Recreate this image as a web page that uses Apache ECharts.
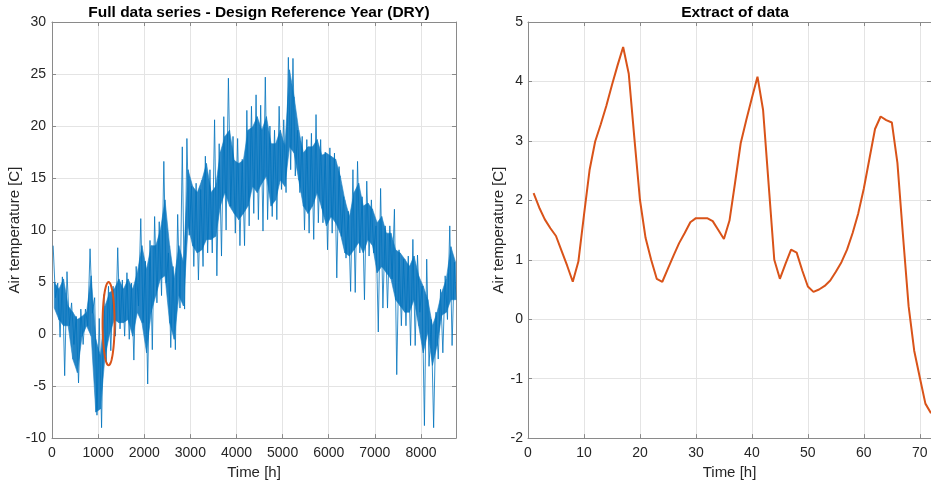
<!DOCTYPE html>
<html>
<head>
<meta charset="utf-8">
<script src="https://cdn.jsdelivr.net/npm/echarts@6/dist/echarts.min.js"></script>
<style>
  html, body { margin: 0; padding: 0; background: #fff; }
  #main { width: 931px; height: 485px; }
</style>
</head>
<body>
<div id="main"></div>
<script>
// full year per 100 h block:
// dryHigh/dryLow = outer spikes, coreHigh/coreLow = where the trace is dense
const blockHours = 100
const yearEnd = 8760
const dryHigh = [
  8.5, 4.9, 5.5, 6.0, 3.0, 1.7, 2.4, 2.4, 8.2, 3.5,
  1.5, 3.8, 4.6, 4.6, 8.3, 5.2, 5.9, 4.9, 6.5, 11.1,
  7.0, 9.0, 11.3, 10.8, 16.6, 7.8, 6.5, 11.5, 18.0, 18.8,
  14.2, 14.5, 13.9, 17.1, 15.8, 20.6, 18.3, 20.9, 24.6, 19.0,
  18.8, 16.8, 21.5, 21.9, 23.0, 22.0, 24.7, 20.0, 19.6, 21.9,
  20.6, 26.6, 26.5, 19.6, 19.0, 18.7, 19.3, 21.1, 18.7, 17.5,
  17.9, 17.4, 16.1, 13.2, 11.8, 15.8, 16.6, 13.2, 14.7, 12.9,
  10.4, 14.0, 10.4, 10.4, 12.0, 8.1, 7.2, 7.5, 9.1, 7.6,
  4.6, 7.2, 1.4, 2.1, 4.3, 5.6, 10.4, 6.9
]
const dryLow = [
  3.5, -0.3, -4.0, 0.8, -1.0, -4.7, -1.0, 0.8, 2.0, -7.8,
  -9.0, -2.7, -1.6, -0.2, 0.5, -0.2, -0.5, -2.5, 2.7, 1.1,
  -4.8, -1.5, 3.0, 3.7, 4.9, -1.3, -1.5, 2.5, 2.4, 9.5,
  6.5, 5.2, 6.5, 7.8, 7.8, 5.6, 7.5, 10.0, 12.3, 9.7,
  8.5, 8.5, 10.4, 11.6, 11.0, 9.9, 11.0, 11.3, 11.0, 13.9,
  13.6, 15.8, 15.2, 13.6, 10.0, 9.7, 9.1, 10.7, 10.7, 8.1,
  9.7, 5.4, 9.4, 7.3, 4.1, 4.0, 7.8, 3.3, 7.5, 7.8,
  0.2, 2.5, 2.5, 5.3, -3.9, 0.8, 0.8, -1.1, -1.1, 2.1,
  -8.8, -3.1, -9.0, -2.4, -1.8, 1.4, -1.1, 3.3
]
const coreHigh = [
  5.0, 4.3, 5.3, 2.7, 2.1, 1.4, 1.7, 2.1, 5.6, -0.5,
  -2.1, 2.7, 4.0, 4.3, 5.3, 4.3, 5.3, 4.3, 5.9, 8.5,
  6.2, 8.5, 8.5, 10.0, 12.9, 8.5, 5.3, 8.5, 6.9, 15.8,
  14.2, 13.6, 14.8, 16.4, 13.6, 14.2, 17.5, 19.0, 19.6, 16.7,
  16.4, 16.7, 19.6, 19.9, 20.9, 19.6, 20.9, 18.3, 18.3, 19.6,
  18.0, 25.4, 22.8, 19.6, 17.4, 18.0, 18.0, 18.7, 17.2, 17.4,
  17.1, 16.8, 15.2, 12.9, 11.3, 13.6, 14.5, 12.3, 12.6, 12.0,
  10.7, 11.3, 9.7, 9.7, 8.1, 7.8, 7.2, 6.5, 7.5, 5.6,
  4.6, 3.3, 0.8, 2.1, 4.0, 5.3, 8.4, 6.9
]
const coreLow = [
  2.5, 1.4, 0.8, 0.8, -2.4, -3.7, -0.2, 0.8, -0.2, -7.5,
  -7.2, -2.1, 0.0, 1.4, 1.1, 1.1, 1.4, -0.2, 2.1, 1.1,
  -1.8, 2.1, 3.7, 5.3, 5.6, 1.1, -0.5, 3.7, 2.7, 10.4,
  8.5, 7.8, 8.1, 9.1, 9.1, 9.4, 12.3, 13.6, 12.3, 11.6,
  11.0, 11.6, 12.3, 14.2, 13.6, 14.5, 15.2, 12.3, 12.9, 14.8,
  14.2, 18.0, 17.4, 14.8, 12.3, 11.6, 12.3, 13.6, 12.1, 10.4,
  11.3, 10.7, 9.7, 7.8, 7.5, 8.1, 8.8, 7.8, 9.1, 8.5,
  5.9, 6.5, 5.9, 5.3, 3.3, 2.7, 2.1, 2.1, 3.3, 0.8,
  -1.8, 0.2, -3.0, -1.1, 1.8, 2.1, 3.3, 3.3
]

// 72 h extract (the ringed part of the year)
const extractHours = [
  1, 2, 3, 4, 5, 6, 7, 8, 9, 10, 11, 12, 13, 14, 15, 16, 17, 18,
  19, 20, 21, 22, 23, 24, 25, 26, 27, 28, 29, 30, 31, 32, 33, 34, 35, 36,
  37, 38, 39, 40, 41, 42, 43, 44, 45, 46, 47, 48, 49, 50, 51, 52, 53, 54,
  55, 56, 57, 58, 59, 60, 61, 62, 63, 64, 65, 66, 67, 68, 69, 70, 71, 72
]
const extractTemp = [
  2.12, 1.88, 1.68, 1.53, 1.40, 1.15, 0.90, 0.63, 0.97, 1.75, 2.51, 2.99,
  3.28, 3.59, 3.94, 4.27, 4.58, 4.13, 3.05, 2.01, 1.37, 1.00, 0.68, 0.63,
  0.85, 1.07, 1.28, 1.45, 1.63, 1.70, 1.70, 1.70, 1.65, 1.50, 1.35, 1.66,
  2.30, 2.96, 3.35, 3.72, 4.08, 3.52, 2.26, 1.00, 0.68, 0.93, 1.17, 1.12,
  0.82, 0.55, 0.46, 0.50, 0.56, 0.65, 0.80, 0.96, 1.17, 1.45, 1.78, 2.20,
  2.70, 3.20, 3.41, 3.35, 3.31, 2.63, 1.40, 0.22, -0.53, -0.98, -1.42, -1.58
]

// ring on the full series: centre hour, centre temp, half width [h], half height [C]
const markWindow = [1227, 1.0, 130, 4.0]

const FONT = 'Liberation Sans'
const TXT = '#262626'
const BOX = '#8a8a8a'
const GRIDLINE = '#e4e4e4'
const BLUE = '#0072BD'
const CORE = '#2384c6'

function spikePoints () {
  const pts = []
  dryHigh.forEach((hi, i) => {
    const start = i * blockHours
    pts.push([Math.min(start + 25, yearEnd), hi])
    pts.push([Math.min(start + 75, yearEnd), dryLow[i]])
  })
  return pts
}

function blockMid (i) {
  return Math.min(i * blockHours + blockHours / 2, yearEnd)
}

// one strip per pair of neighbouring blocks: [x0, hi0, lo0, x1, hi1, lo1]
function coreStrips () {
  const rows = []
  for (let i = 0; i < coreHigh.length - 1; i++) {
    rows.push([blockMid(i), coreHigh[i], coreLow[i], blockMid(i + 1), coreHigh[i + 1], coreLow[i + 1]])
  }
  return rows
}

function drawStrip (params, api) {
  const a = api.coord([api.value(0), api.value(1)])
  const b = api.coord([api.value(3), api.value(4)])
  const c = api.coord([api.value(3), api.value(5)])
  const d = api.coord([api.value(0), api.value(2)])
  return {
    type: 'polygon',
    shape: { points: [a, b, c, d] },
    style: { fill: CORE, stroke: CORE, lineWidth: 0.6 }
  }
}

function axisPair (dim, gridIndex, min, max, interval, name, nameGap, margin, hideMax) {
  const main = {
    type: 'value',
    gridIndex: gridIndex,
    position: dim === 'x' ? 'bottom' : 'left',
    min: min,
    max: max,
    interval: interval,
    axisLine: { show: true, onZero: false, lineStyle: { color: BOX, width: 1 } },
    axisTick: { show: true, inside: true, length: 4, lineStyle: { color: BOX } },
    axisLabel: {
      color: TXT, fontSize: 14, fontFamily: FONT, margin: margin,
      showMaxLabel: !hideMax,
      formatter: v => String(v)
    },
    splitLine: { show: true, lineStyle: { color: GRIDLINE, width: 1 } },
    name: name,
    nameLocation: 'middle',
    nameGap: nameGap,
    nameTextStyle: { color: TXT, fontSize: 15, fontFamily: FONT }
  }
  const mirror = {
    type: 'value',
    gridIndex: gridIndex,
    position: dim === 'x' ? 'top' : 'right',
    min: min,
    max: max,
    interval: interval,
    axisLine: { show: true, onZero: false, lineStyle: { color: BOX, width: 1 } },
    axisTick: { show: true, inside: true, length: 4, lineStyle: { color: BOX } },
    axisLabel: { show: false },
    splitLine: { show: false }
  }
  return [main, mirror]
}

function drawWindow (params, api) {
  const c = api.coord([api.value(0), api.value(1)])
  const s = api.size([api.value(2), api.value(3)])
  const pts = []
  for (let k = 0; k <= 80; k++) {
    const a = k / 80 * Math.PI * 2
    pts.push([c[0] + s[0] * Math.cos(a), c[1] + s[1] * Math.sin(a)])
  }
  return {
    type: 'polyline',
    shape: { points: pts },
    style: { stroke: '#D95319', lineWidth: 2, fill: null }
  }
}

const chart = echarts.init(document.getElementById('main'), null, { renderer: 'canvas' })

const option = {
  animation: false,
  backgroundColor: '#fff',
  title: [
    {
      text: 'Full data series - Design Reference Year (DRY)',
      left: 254, top: 0, textAlign: 'center',
      textStyle: { fontSize: 15.5, fontWeight: 'bold', color: '#000', fontFamily: FONT }
    },
    {
      text: 'Extract of data',
      left: 730, top: 0, textAlign: 'center',
      textStyle: { fontSize: 15.5, fontWeight: 'bold', color: '#000', fontFamily: FONT }
    }
  ],
  grid: [
    { left: 52, top: 22, width: 404, height: 418 },
    { left: 528, top: 22, width: 403, height: 418 }
  ],
  xAxis: [].concat(
    axisPair('x', 0, 0, yearEnd, 1000, 'Time [h]', 26, 8, true),
    axisPair('x', 1, 0, 72, 10, 'Time [h]', 26, 8, true)
  ),
  yAxis: [].concat(
    axisPair('y', 0, -10, 30, 5, 'Air temperature [C]', 29, 6, false),
    axisPair('y', 1, -2, 5, 1, 'Air temperature [C]', 21, 5, false)
  ),
  series: [
    {
      type: 'custom',
      xAxisIndex: 0,
      yAxisIndex: 0,
      renderItem: drawStrip,
      data: coreStrips(),
      encode: { x: [0, 3], y: [1, 2, 4, 5] },
      z: 2
    },
    {
      type: 'line',
      xAxisIndex: 0,
      yAxisIndex: 0,
      data: spikePoints(),
      showSymbol: false,
      symbol: 'none',
      sampling: null,
      lineStyle: { color: BLUE, width: 0.8 },
      z: 3
    },
    {
      type: 'custom',
      xAxisIndex: 0,
      yAxisIndex: 0,
      renderItem: drawWindow,
      data: [markWindow],
      encode: { x: 0, y: 1 },
      z: 4
    },
    {
      type: 'line',
      xAxisIndex: 2,
      yAxisIndex: 2,
      data: extractHours.map((h, i) => [h, extractTemp[i]]),
      showSymbol: false,
      symbol: 'none',
      lineStyle: { color: '#D95319', width: 2 },
      z: 3
    }
  ]
}

chart.setOption(option)
</script>
</body>
</html>
